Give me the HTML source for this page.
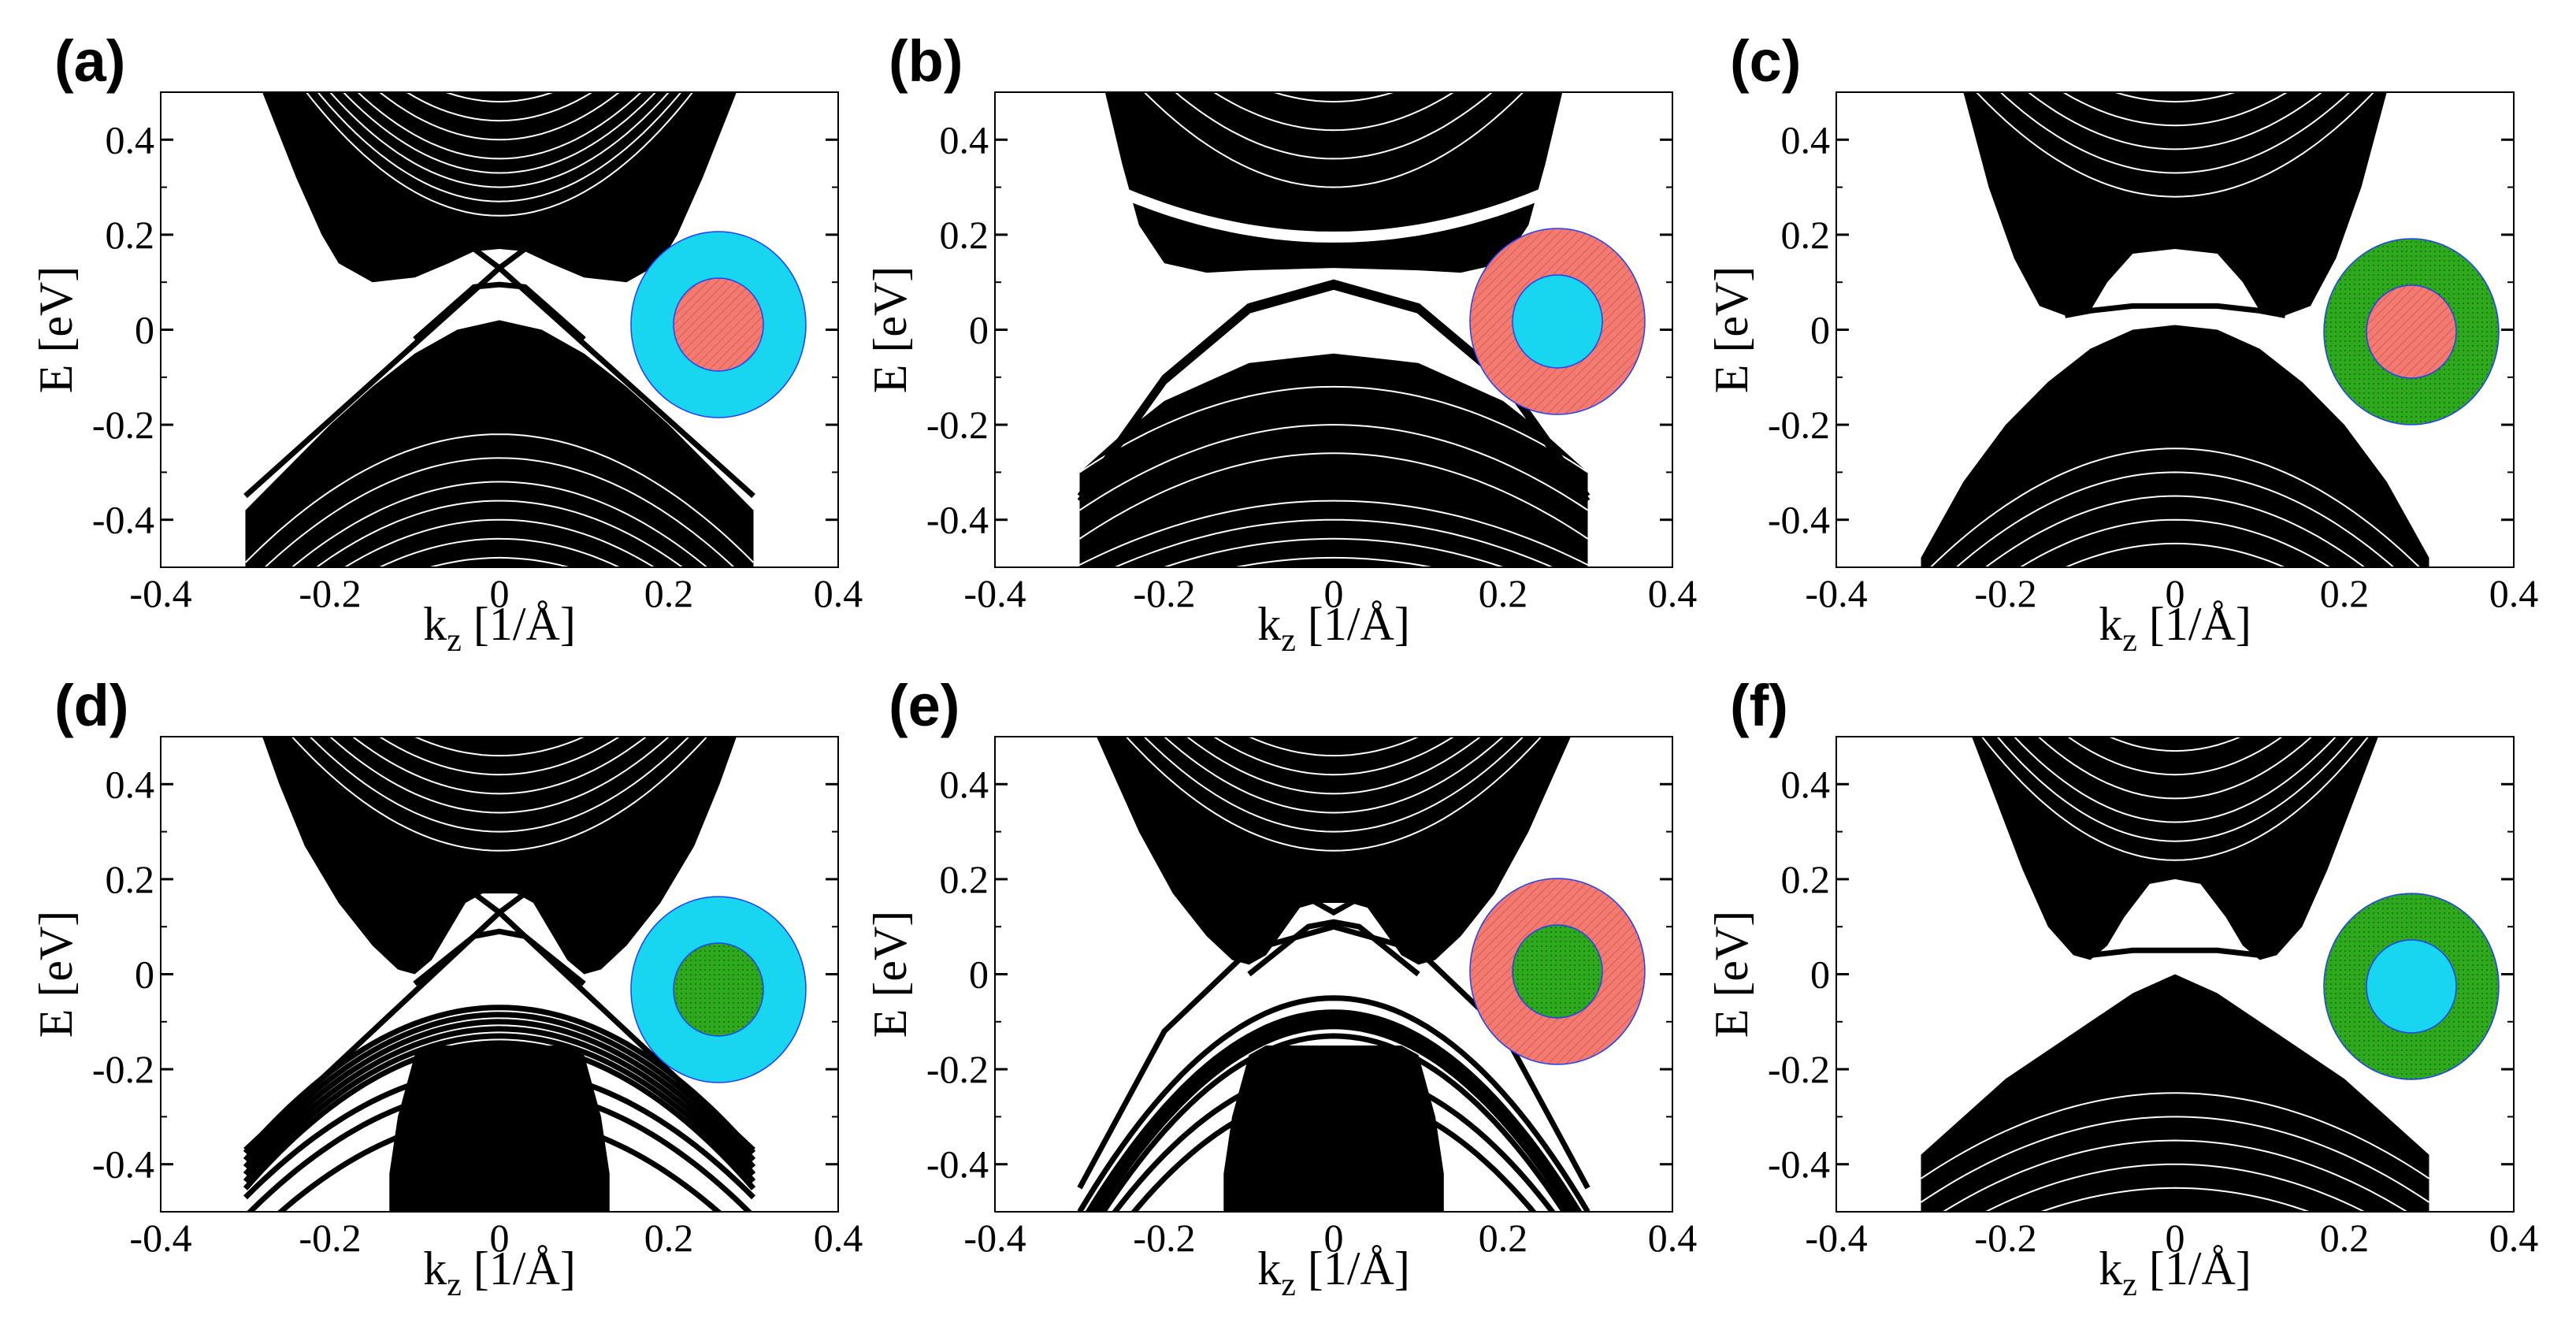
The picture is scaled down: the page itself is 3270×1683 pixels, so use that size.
<!DOCTYPE html>
<html><head><meta charset="utf-8">
<style>
body{margin:0;background:#fff;}
svg{display:block;}
.tl{font-family:"Liberation Serif",serif;font-size:50px;fill:#000;}
.at{font-family:"Liberation Serif",serif;font-size:60px;fill:#000;}
.pl{font-family:"Liberation Sans",sans-serif;font-weight:bold;font-size:74px;fill:#000;}
</style></head>
<body>
<svg id="fig" width="3270" height="1683" viewBox="0 0 3270 1683" xmlns="http://www.w3.org/2000/svg">
<defs>
<pattern id="hatch" width="8" height="8" patternUnits="userSpaceOnUse" patternTransform="rotate(45)">
<rect width="8" height="8" fill="#f27a70"/><line x1="0" y1="0" x2="0" y2="8" stroke="#d85a52" stroke-width="2"/>
</pattern>
<pattern id="dots" width="6" height="6" patternUnits="userSpaceOnUse">
<rect width="6" height="6" fill="#2ea81c"/><rect width="2" height="2" fill="#1d7a10"/>
</pattern>
</defs>
</svg>
<script>
const xTicks=[-0.4,-0.2,0,0.2,0.4];
const yTicks=[-0.4,-0.2,0,0.2,0.4];
const yMinor=[-0.3,-0.1,0.1,0.3];
const panelLabels=["(a)","(b)","(c)","(d)","(e)","(f)"];
const outerColors=["#18d6ef","hatch","dots","#18d6ef","hatch","dots"];
const innerColors=["hatch","#18d6ef","hatch","dots","dots","#18d6ef"];

const aCondK=[0,0.03,0.06,0.1,0.15,0.19,0.21,0.24,0.28];
const aCondE=[0.17,0.165,0.14,0.11,0.1,0.14,0.2,0.32,0.5];
const aValK=[0,0.05,0.1,0.15,0.2,0.25,0.3,0.3];
const aValE=[0.02,0,-0.05,-0.12,-0.2,-0.29,-0.38,-0.5];
const aSurfK=[[0,0.03],[0,0.1,0.2,0.3],[0,0.03,0.1]];
const aSurfE=[[0.13,0.17],[0.13,-0.03,-0.19,-0.35],[0.095,0.09,-0.02]];
const aWhiteE0=[0.24,0.27,0.3,0.33,0.36,0.4,0.44,0.48,-0.22,-0.27,-0.32,-0.36,-0.4,-0.44,-0.48];
const aWhiteC=[5,5,5,5,5,5,5,5,-3,-3,-3,-3,-3,-3,-3];
const aLineE0=[];const aLineC=[];

const bCondK=[0,0.1,0.15,0.2,0.23,0.25,0.27];
const bCondE=[0.13,0.125,0.12,0.14,0.22,0.35,0.5];
const bValK=[0,0.1,0.2,0.25,0.3,0.3];
const bValE=[-0.05,-0.07,-0.15,-0.22,-0.3,-0.5];
const bSurfK=[[0,0.1,0.2,0.3],[0,0.1,0.2,0.3]];
const bSurfE=[[0.1,0.05,-0.1,-0.35],[0.09,0.04,-0.11,-0.36]];
const bWhiteE0=[0.195,0.3,0.36,0.42,0.48,-0.12,-0.2,-0.26,-0.36,-0.4,-0.44,-0.48];
const bWhiteC=[1.5,4,4,4,4,-2,-2,-2,-1.5,-1.5,-1.5,-1.5];
const bLineE0=[];const bLineC=[];

const cCondK=[0,0.05,0.08,0.1,0.13,0.16,0.19,0.22,0.25];
const cCondE=[0.17,0.16,0.1,0.04,0.03,0.05,0.15,0.3,0.5];
const cValK=[0,0.05,0.1,0.15,0.2,0.25,0.3,0.3];
const cValE=[0.01,0,-0.04,-0.11,-0.2,-0.32,-0.48,-0.5];
const cSurfK=[[0,0.05,0.1,0.13]];
const cSurfE=[[0.05,0.05,0.04,0.03]];
const cWhiteE0=[0.28,0.33,0.38,0.43,0.48,-0.25,-0.3,-0.35,-0.4,-0.45];
const cWhiteC=[4,4,4,4,4,-3,-3,-3,-3,-3];
const cLineE0=[];const cLineC=[];

const dCondK=[0,0.02,0.04,0.06,0.08,0.1,0.12,0.15,0.19,0.23,0.26,0.28];
const dCondE=[0.17,0.17,0.15,0.09,0.03,0.0,0.01,0.06,0.15,0.27,0.4,0.5];
const dValK=[0,0.08,0.1,0.12,0.13,0.13];
const dValE=[-0.15,-0.15,-0.17,-0.3,-0.42,-0.5];
const dSurfK=[[0,0.3],[0,0.03],[0,0.03,0.1]];
const dSurfE=[[0.13,-0.37],[0.13,0.17],[0.09,0.08,-0.02]];
const dWhiteE0=[0.26,0.3,0.34,0.38,0.42,0.46];
const dWhiteC=[4,4,4,4,4,4];
const dLineE0=[-0.07,-0.085,-0.1,-0.115,-0.13,-0.145,-0.2,-0.24,-0.3];
const dLineC=[-3.4,-3.4,-3.4,-3.4,-3.4,-3.4,-3.0,-3.0,-3.0];

const eCondK=[0,0.02,0.04,0.06,0.08,0.1,0.12,0.15,0.19,0.23,0.26,0.28];
const eCondE=[0.15,0.15,0.14,0.09,0.04,0.02,0.03,0.08,0.17,0.3,0.42,0.5];
const eValK=[0,0.08,0.1,0.12,0.13,0.13];
const eValE=[-0.15,-0.15,-0.17,-0.3,-0.42,-0.5];
const eSurfK=[[0,0.1,0.2,0.3],[0,0.03],[0,0.03,0.1]];
const eSurfE=[[0.1,0.05,-0.12,-0.45],[0.13,0.16],[0.11,0.1,0.0]];
const eWhiteE0=[0.26,0.3,0.34,0.38,0.42,0.46];
const eWhiteC=[4,4,4,4,4,4];
const eLineE0=[-0.05,-0.08,-0.09,-0.1,-0.11,-0.13,-0.2,-0.25];
const eLineC=[-5,-5,-5,-5,-5,-5,-4.5,-4.5];

const fCondK=[0,0.03,0.06,0.08,0.1,0.12,0.15,0.18,0.21,0.24];
const fCondE=[0.2,0.19,0.12,0.06,0.03,0.04,0.1,0.22,0.36,0.5];
const fValK=[0,0.05,0.1,0.15,0.2,0.25,0.3,0.3];
const fValE=[0,-0.04,-0.1,-0.16,-0.22,-0.3,-0.38,-0.5];
const fSurfK=[[0,0.05,0.1]];
const fSurfE=[[0.05,0.05,0.04]];
const fWhiteE0=[0.24,0.28,0.32,0.37,0.42,0.47,-0.25,-0.3,-0.35,-0.4,-0.45];
const fWhiteC=[5,5,5,5,5,5,-2,-2,-2,-2,-2];
const fLineE0=[];const fLineC=[];

const condK=[aCondK,bCondK,cCondK,dCondK,eCondK,fCondK];
const condE=[aCondE,bCondE,cCondE,dCondE,eCondE,fCondE];
const valK=[aValK,bValK,cValK,dValK,eValK,fValK];
const valE=[aValE,bValE,cValE,dValE,eValE,fValE];
const surfK=[aSurfK,bSurfK,cSurfK,dSurfK,eSurfK,fSurfK];
const surfE=[aSurfE,bSurfE,cSurfE,dSurfE,eSurfE,fSurfE];
const whiteE0=[aWhiteE0,bWhiteE0,cWhiteE0,dWhiteE0,eWhiteE0,fWhiteE0];
const whiteC=[aWhiteC,bWhiteC,cWhiteC,dWhiteC,eWhiteC,fWhiteC];
const lineE0=[aLineE0,bLineE0,cLineE0,dLineE0,eLineE0,fLineE0];
const lineC=[aLineC,bLineC,cLineC,dLineC,eLineC,fLineC];

const NS="http://www.w3.org/2000/svg";
const svg=document.getElementById("fig");
const lefts=[204,1263,2331];
const tops=[117,935];
const PW=860,PH=603;
function mk(tag,attrs,parent){const e=document.createElementNS(NS,tag);for(const k in attrs)e.setAttribute(k,attrs[k]);parent.appendChild(e);return e;}
function fillOf(c){return c==="hatch"?"url(#hatch)":c==="dots"?"url(#dots)":c;}

for(let p=0;p<6;p++){
  const L=lefts[p%3],T=tops[Math.floor(p/3)];
  const sx=k=>L+(k+0.4)/0.8*PW;
  const sy=E=>T+(0.5-E)*PH;
  const g=mk("g",{},svg);
  
  
  const cl=mk("clipPath",{id:"clip"+p},g);
  mk("rect",{x:L,y:T,width:PW,height:PH},cl);
  const plot=mk("g",{"clip-path":"url(#clip"+p+")"},g);
  
  
  function mirrorPts(K,E){const pts=[];for(let i=K.length-1;i>=0;i--)pts.push([-K[i],E[i]]);for(let i=0;i<K.length;i++)pts.push([K[i],E[i]]);return pts;}
  function ptsStr(pts){return pts.map(q=>sx(q[0]).toFixed(1)+","+sy(q[1]).toFixed(1)).join(" ");}
  const cp=mk("polygon",{points:ptsStr(mirrorPts(condK[p],condE[p])),fill:"#000"},plot);
  
  
  const vp=mk("polygon",{points:ptsStr(mirrorPts(valK[p],valE[p])),fill:"#000"},plot);
  
  
  for(let i=0;i<whiteE0[p].length;i++){
    const pts=[];for(let k=-0.3;k<=0.3001;k+=0.01)pts.push([k,whiteE0[p][i]+whiteC[p][i]*k*k]);
    const w=mk("polyline",{points:ptsStr(pts),fill:"none",stroke:"#fff","stroke-width":(p===1&&i===0)?14:2},plot);
    
    
  }
  for(let i=0;i<lineE0[p].length;i++){
    const pts=[];for(let k=-0.3;k<=0.3001;k+=0.01)pts.push([k,lineE0[p][i]+lineC[p][i]*k*k]);
    const l=mk("polyline",{points:ptsStr(pts),fill:"none",stroke:"#000","stroke-width":7},plot);
    
    
  }
  for(let i=0;i<surfK[p].length;i++){
    const l=mk("polyline",{points:ptsStr(mirrorPts(surfK[p][i],surfE[p][i])),fill:"none",stroke:"#000","stroke-width":7},plot);
    
    
  }
  const fr=mk("rect",{x:L,y:T,width:PW,height:PH,fill:"none",stroke:"#000","stroke-width":2},g);
  
  
  for(const v of yTicks){
    const y=sy(v);
    mk("line",{x1:L,y1:y,x2:L+16,y2:y,stroke:"#000","stroke-width":3},g);
    mk("line",{x1:L+PW,y1:y,x2:L+PW-16,y2:y,stroke:"#000","stroke-width":3},g);
    const t=mk("text",{x:L-8,y:y+17,"text-anchor":"end",class:"tl"},g);
    t.textContent=v===0?"0":v.toFixed(1);
    
    
  }
  for(const v of yMinor){
    const y=sy(v);
    mk("line",{x1:L,y1:y,x2:L+8,y2:y,stroke:"#000","stroke-width":2},g);
    mk("line",{x1:L+PW,y1:y,x2:L+PW-8,y2:y,stroke:"#000","stroke-width":2},g);
  }
  for(const v of xTicks){
    const x=sx(v);
    const t=mk("text",{x:x,y:T+PH+50,"text-anchor":"middle",class:"tl"},g);
    t.textContent=v===0?"0":v.toFixed(1);
    
    
  }
  const yt=mk("text",{x:0,y:0,"text-anchor":"middle",class:"at",transform:"translate("+(L-113)+","+(T+PH/2)+") rotate(-90)"},g);
  yt.textContent="E [eV]";
  
  
  const xt=mk("text",{x:L+PW/2,y:T+PH+92,"text-anchor":"middle",class:"at"},g);
  xt.innerHTML='k<tspan dy="14" font-size="42">z</tspan><tspan dy="-14"> [1/Å]</tspan>';
  
  
  const pl=mk("text",{x:L-135,y:T-14,class:"pl"},g);
  pl.textContent=panelLabels[p];
  
  
  const ox=[708,714,730][p%3], oy=[295,291,304,321,298,317][p];
  const o=mk("ellipse",{cx:L+ox,cy:T+oy,rx:111,ry:118,fill:fillOf(outerColors[p]),stroke:"#2040ff","stroke-width":1.5},g);
  
  
  const inn=mk("ellipse",{cx:L+ox,cy:T+oy,rx:57,ry:59,fill:fillOf(innerColors[p]),stroke:"#2040ff","stroke-width":1.5},g);
  
  
}
</script>
</body></html>
